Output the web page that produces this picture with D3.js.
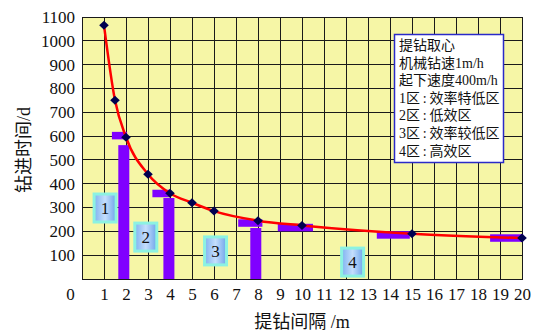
<!DOCTYPE html>
<html><head><meta charset="utf-8">
<script src="https://cdn.jsdelivr.net/npm/d3@7"></script>
<style>
html,body{margin:0;padding:0;background:#fff;}
svg{display:block;}
</style></head>
<body>
<svg id="chart" width="533" height="331"></svg>
<script>
// ---- data ----
const intervals = [1, 1.5, 2, 3, 4, 5, 6, 8, 10, 15, 20];
const times = [1065, 750, 595, 440, 360, 320, 285, 245, 225, 190, 172];

// vertical purple bars (center x, top value)
const vBarX = [1.9, 3.95, 7.9];
const vBarTop = [562, 340, 214];

// horizontal purple bars (x start, x end, centre value)
const hBarX0 = [1.36, 3.2, 7.1, 8.9, 13.4, 18.55];
const hBarX1 = [2.05, 4.0, 8.2, 10.5, 14.9, 20.05];
const hBarY = [602, 359, 235, 216, 185, 172];

// zone labels (centre in data units)
const zoneLabels = ["1", "2", "3", "4"];
const zoneX = [1.05, 2.9, 6.07, 12.3];
const zoneY = [298, 176, 118, 71];

const xTicks = [0,1,2,3,4,5,6,7,8,9,10,11,12,13,14,15,16,17,18,19,20];
const yTicks = [100,200,300,400,500,600,700,800,900,1000,1100];

const legendLines = ["提钻取心", "机械钻速1m/h", "起下速度400m/h",
  "1区\u2009:\u2009效率特低区", "2区\u2009:\u2009低效区", "3区\u2009:\u2009效率较低区", "4区\u2009:\u2009高效区"];

const xTitle = "提钻间隔 /m";
const yTitle = "钻进时间/d";

// ---- layout ----
const svg = d3.select("#chart");
const L = 82, R = 522, T = 17, B = 279;
const x = d3.scaleLinear().domain([0, 20]).range([L, R]);
const y = d3.scaleLinear().domain([0, 1100]).range([B, T]);
const FONT = "'Liberation Serif','Times New Roman','Noto Sans CJK SC',serif";

// background
svg.append("rect").attr("x", L).attr("y", T).attr("width", R - L).attr("height", B - T)
  .attr("fill", "#f6f6a6");

// grid
const g = svg.append("g");
g.selectAll("line.v").data(xTicks).enter().append("line")
  .attr("x1", d => x(d)).attr("x2", d => x(d)).attr("y1", T).attr("y2", B)
  .attr("stroke", "#1a1a1a").attr("stroke-width", 1).attr("shape-rendering", "crispEdges");
g.selectAll("line.h").data([0].concat(yTicks)).enter().append("line")
  .attr("x1", L).attr("x2", R).attr("y1", d => y(d)).attr("y2", d => y(d))
  .attr("stroke", "#1a1a1a").attr("stroke-width", 1).attr("shape-rendering", "crispEdges");
svg.append("rect").attr("x", L).attr("y", T).attr("width", R - L).attr("height", B - T)
  .attr("fill", "none").attr("stroke", "#1a1a1a").attr("shape-rendering", "crispEdges");

// gradient for zone labels
const defs = svg.append("defs");
const grad = defs.append("linearGradient").attr("id", "zg").attr("x1", "0").attr("x2", "1").attr("y1", "0").attr("y2", "0");
grad.append("stop").attr("offset", "0").attr("stop-color", "#7fb2f0");
grad.append("stop").attr("offset", "0.5").attr("stop-color", "#c4defc");
grad.append("stop").attr("offset", "1").attr("stop-color", "#6ea4ea");

// zone labels
const zw = 22, zh = 28;
const zg = svg.append("g");
zoneLabels.forEach((t, i) => {
  const cx = x(zoneX[i]), cy = y(zoneY[i]);
  zg.append("rect").attr("x", cx - zw / 2).attr("y", cy - zh / 2).attr("width", zw).attr("height", zh)
    .attr("fill", "url(#zg)").attr("stroke", "#8cf2e2").attr("stroke-width", 3);
  zg.append("text").attr("x", cx).attr("y", cy + 6).attr("text-anchor", "middle")
    .attr("font-family", FONT).attr("font-size", 17).attr("fill", "#111").text(t);
});

// purple bars
const purple = "#8000ff";
svg.append("g").selectAll("rect").data(vBarX).enter().append("rect")
  .attr("x", d => x(d) - 5.5).attr("width", 11)
  .attr("y", (d, i) => y(vBarTop[i])).attr("height", (d, i) => y(0) - y(vBarTop[i]))
  .attr("fill", purple);
svg.append("g").selectAll("rect").data(hBarX0).enter().append("rect")
  .attr("x", d => x(d)).attr("width", (d, i) => x(hBarX1[i]) - x(d))
  .attr("y", (d, i) => y(hBarY[i]) - 3.75).attr("height", 7.5)
  .attr("fill", purple);

// curve
const pts = intervals.map((d, i) => [d, times[i]]);
const line = d3.line().x(d => x(d[0])).y(d => y(d[1])).curve(d3.curveMonotoneX);
svg.append("path").datum(pts).attr("d", line).attr("fill", "none")
  .attr("stroke", "#ff0000").attr("stroke-width", 2.5);

// diamonds
svg.append("g").selectAll("path").data(pts).enter().append("path")
  .attr("transform", d => `translate(${x(d[0])},${y(d[1])})`)
  .attr("d", "M0,-4.5L4.8,0L0,4.5L-4.8,0Z").attr("fill", "#000050");

// axes
const yAxis = svg.append("g").attr("transform", `translate(${L},0)`)
  .call(d3.axisLeft(y).tickValues(yTicks).tickSize(0).tickPadding(7).tickFormat(d3.format("d")));
yAxis.select(".domain").remove();
yAxis.selectAll("text").attr("font-family", FONT).attr("font-size", 17).attr("fill", "#111");

const xAxis = svg.append("g").attr("transform", `translate(0,${B})`)
  .call(d3.axisBottom(x).tickValues(xTicks).tickSize(0).tickPadding(9).tickFormat(d3.format("d")));
xAxis.select(".domain").remove();
xAxis.selectAll("text").attr("font-family", FONT).attr("font-size", 17).attr("fill", "#111")
  .attr("dx", d => d === 0 ? -12 : 0);

// titles
svg.append("text").attr("x", 302).attr("y", 328).attr("text-anchor", "middle")
  .attr("font-family", FONT).attr("font-size", 18).attr("fill", "#111").text(xTitle);
svg.append("text").attr("transform", "translate(30,150) rotate(-90)").attr("text-anchor", "middle")
  .attr("font-family", FONT).attr("font-size", 18).attr("fill", "#111").text(yTitle);

// legend
svg.append("rect").attr("x", 394.5).attr("y", 34.5).attr("width", 109).attr("height", 128)
  .attr("fill", "#ffffff").attr("stroke", "#2a2ac8").attr("stroke-width", 1.5);
svg.append("g").selectAll("text").data(legendLines).enter().append("text")
  .attr("x", 399).attr("y", (d, i) => 50 + i * 17.6)
  .attr("font-family", FONT).attr("font-size", 14).attr("fill", "#111").text(d => d);
</script>
</body></html>
